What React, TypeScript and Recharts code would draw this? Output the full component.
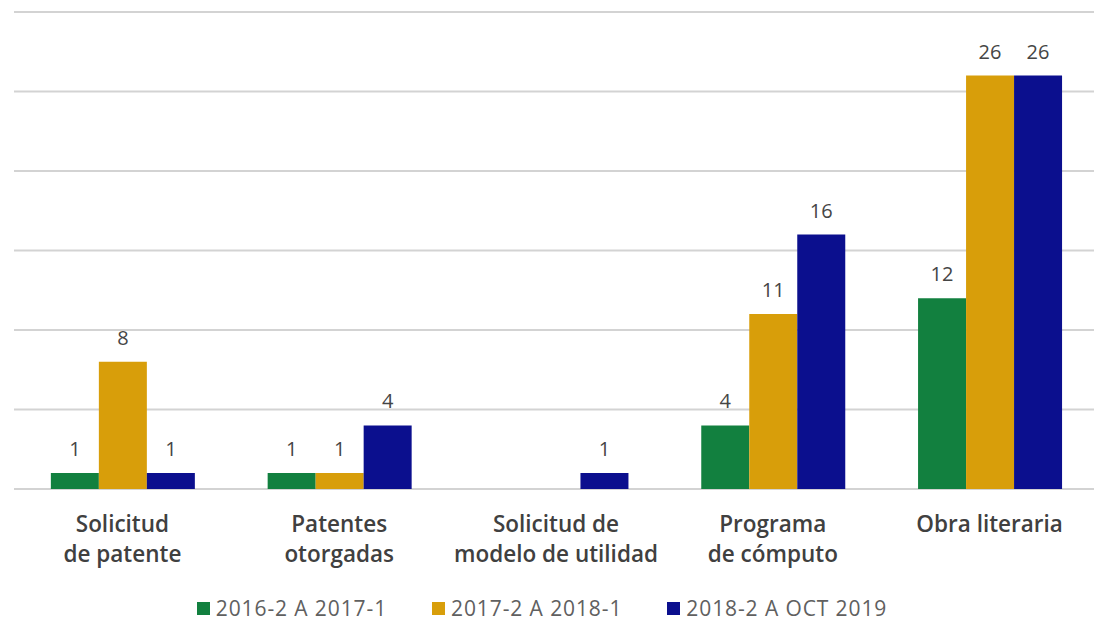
import React from 'react';
import { BarChart, Bar, XAxis, YAxis, CartesianGrid, Legend, LabelList } from 'recharts';

const categories = [
  'Solicitud\nde patente',
  'Patentes\notorgadas',
  'Solicitud de\nmodelo de utilidad',
  'Programa\nde cómputo',
  'Obra literaria',
];
const series1 = [1, 1, 0, 4, 12];
const series2 = [8, 1, 0, 11, 26];
const series3 = [1, 4, 1, 16, 26];
const seriesNames = ['2016-2 A 2017-1', '2017-2 A 2018-1', '2018-2 A OCT 2019'];
const seriesColors = ['#12803f', '#d89e0a', '#0b0f8e'];
const yTicks = [0, 5, 10, 15, 20, 25, 30];

const data = categories.map((c, i) => ({
  name: c,
  s1: series1[i],
  s2: series2[i],
  s3: series3[i],
}));

const FONT = '"Open Sans", "Noto Sans", sans-serif';

const CategoryTick = (props: any) => {
  const { x, y, payload } = props;
  const lines = String(payload.value).split('\n');
  return (
    <g transform={`translate(${x},${y})`}>
      {lines.map((l: string, i: number) => (
        <text
          key={i}
          x={0}
          y={43 + i * 30}
          textAnchor="middle"
          fontFamily={FONT}
          fontWeight={600}
          fontSize={22.5}
          fill="#404040"
        >
          {l}
        </text>
      ))}
    </g>
  );
};

const LegendContent = () => (
  <div
    style={{
      height: 36,
      display: 'flex',
      justifyContent: 'center',
      alignItems: 'center',
      fontFamily: FONT,
      fontSize: 21,
      color: '#606060',
      paddingRight: 28,
    }}
  >
    {seriesNames.map((n, i) => (
      <div key={n} style={{ display: 'flex', alignItems: 'center', marginRight: i < 2 ? 45 : 0 }}>
        <div style={{ width: 13, height: 13, background: seriesColors[i], marginRight: 6 }} />
        <span style={{ letterSpacing: 0.9 }}>{n}</span>
      </div>
    ))}
  </div>
);

const fmt = (v: any) => (v === 0 ? '' : v);

export default function App() {
  return (
    <div
      style={{
        position: 'absolute',
        left: 0,
        top: 0,
        width: 1094,
        height: 626,
        overflow: 'hidden',
        background: '#ffffff',
      }}
    >
      <BarChart
        width={1098}
        height={626}
        data={data}
        margin={{ top: 12, right: 0, left: 14, bottom: 0 }}
        barCategoryGap="17%"
        barGap={0}
      >
        <CartesianGrid vertical={false} stroke="#d3d3d3" strokeWidth={1.8} />
        <YAxis hide domain={[0, 30]} ticks={yTicks} />
        <XAxis
          dataKey="name"
          axisLine={false}
          tickLine={false}
          tickSize={0}
          tickMargin={0}
          height={101}
          interval={0}
          tick={<CategoryTick />}
        />
        <Legend verticalAlign="bottom" height={36} content={<LegendContent />} />
        {(['s1', 's2', 's3'] as const).map((k, i) => (
          <Bar key={k} dataKey={k} name={seriesNames[i]} fill={seriesColors[i]} isAnimationActive={false}>
            <LabelList
              dataKey={k}
              position="top"
              offset={17}
              formatter={fmt}
              fill="#454545"
              fontSize={20}
              fontFamily={FONT}
            />
          </Bar>
        ))}
      </BarChart>
    </div>
  );
}
